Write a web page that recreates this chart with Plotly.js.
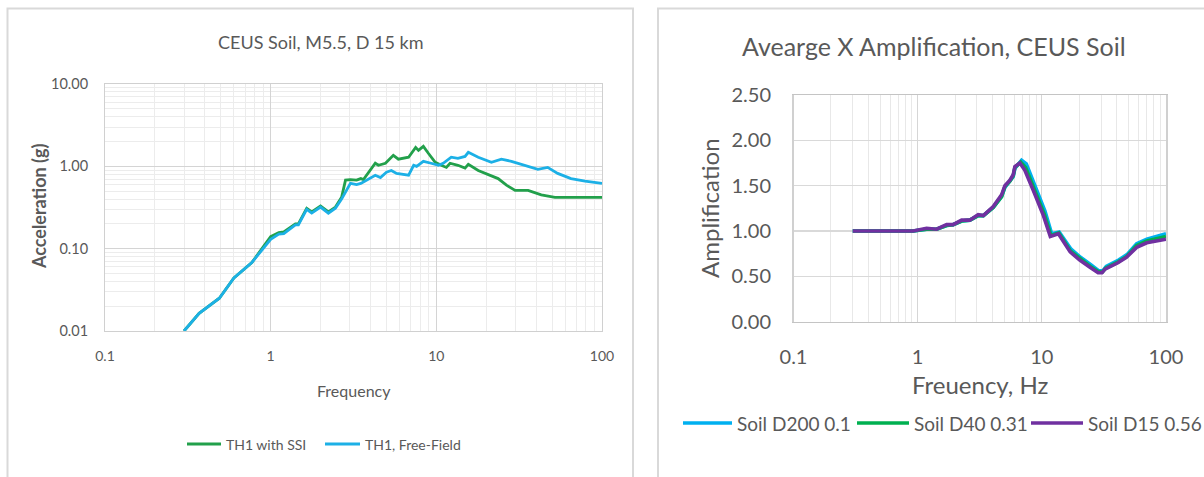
<!DOCTYPE html>
<html>
<head>
<meta charset="utf-8">
<script src="https://cdn.plot.ly/plotly-3.0.1.min.js"></script>
<style>
  html, body { margin: 0; padding: 0; background: #ffffff; }
  #chart { width: 1204px; height: 477px; }
</style>
</head>
<body>
<div id="chart"></div>
<script>
// ---- Response spectra: CEUS Soil, M5.5, D 15 km ----
const ssiFreq = [0.3, 0.37, 0.49, 0.6, 0.77, 1.0, 1.12, 1.2, 1.41, 1.47, 1.65, 1.77, 2.0, 2.23, 2.46, 2.68, 2.83, 3.03, 3.3, 3.5, 3.63, 4.28, 4.47, 4.93, 5.5, 5.9, 6.8, 7.5, 7.8, 8.35, 8.95, 9.85, 10.7, 11.5, 12.1, 13.5, 14.9, 15.6, 17.9, 20.5, 23.6, 26.5, 29.9, 35.8, 39.5, 43, 52, 100];
const ssiAcc  = [0.01, 0.0164, 0.025, 0.044, 0.068, 0.14, 0.157, 0.16, 0.20, 0.20, 0.31, 0.28, 0.33, 0.28, 0.32, 0.42, 0.68, 0.69, 0.68, 0.71, 0.69, 1.09, 1.03, 1.09, 1.36, 1.22, 1.29, 1.70, 1.56, 1.75, 1.44, 1.12, 1.03, 0.97, 1.09, 1.03, 0.95, 1.06, 0.89, 0.80, 0.71, 0.59, 0.51, 0.51, 0.48, 0.45, 0.42, 0.42];

const ffFreq = [0.3, 0.37, 0.49, 0.6, 0.77, 1.0, 1.12, 1.2, 1.41, 1.47, 1.65, 1.77, 2.0, 2.23, 2.46, 2.68, 3.03, 3.3, 3.5, 4.28, 4.6, 5.0, 5.35, 5.75, 6.8, 7.3, 7.6, 8.35, 9.3, 10.3, 11, 12.3, 13.5, 14.9, 15.6, 17.9, 21.5, 24.7, 28.4, 34.4, 41, 47, 54, 65, 79, 100];
const ffAcc  = [0.01, 0.0164, 0.025, 0.044, 0.068, 0.13, 0.15, 0.152, 0.195, 0.195, 0.30, 0.27, 0.32, 0.27, 0.31, 0.40, 0.62, 0.60, 0.62, 0.78, 0.73, 0.85, 0.89, 0.82, 0.78, 1.03, 1.0, 1.15, 1.09, 1.03, 1.09, 1.29, 1.25, 1.32, 1.48, 1.29, 1.12, 1.22, 1.15, 1.03, 0.92, 0.97, 0.82, 0.71, 0.66, 0.62];

const specXTicks = [0.1, 1, 10, 100];
const specXText  = ['0.1', '1', '10', '100'];
const specYTicks = [0.01, 0.1, 1, 10];
const specYText  = ['0.01', '0.10', '1.00', '10.00'];

// ---- Average X amplification, CEUS Soil ----
const d200Freq = [0.3, 0.92, 1.18, 1.42, 1.71, 1.93, 2.26, 2.63, 3.07, 3.38, 4.06, 4.74, 5.04, 5.53, 5.88, 6.07, 6.87, 7.5, 8.8, 10.6, 12.0, 13.8, 17.2, 20.5, 24.8, 28.8, 31, 33, 41.5, 48.5, 58, 70, 100];
const d200Amp  = [1.0, 1.0, 1.02, 1.02, 1.06, 1.07, 1.11, 1.12, 1.17, 1.17, 1.26, 1.38, 1.48, 1.55, 1.60, 1.69, 1.78, 1.74, 1.50, 1.22, 0.97, 0.99, 0.80, 0.71, 0.63, 0.56, 0.56, 0.61, 0.68, 0.74, 0.86, 0.91, 0.97];

const d40Freq = [0.3, 0.92, 1.18, 1.42, 1.71, 1.93, 2.26, 2.63, 3.07, 3.38, 4.06, 4.74, 5.04, 5.53, 5.88, 6.07, 6.75, 7.4, 8.65, 10.45, 11.85, 13.7, 17.0, 20.4, 24.6, 28.6, 30.8, 32.6, 41.2, 48.2, 58, 70, 100];
const d40Amp  = [1.0, 1.0, 1.02, 1.02, 1.06, 1.07, 1.11, 1.12, 1.17, 1.17, 1.26, 1.38, 1.49, 1.55, 1.61, 1.70, 1.76, 1.70, 1.47, 1.19, 0.95, 0.98, 0.78, 0.69, 0.61, 0.55, 0.55, 0.59, 0.66, 0.72, 0.84, 0.89, 0.94];

const d15Freq = [0.3, 0.92, 1.18, 1.42, 1.71, 1.93, 2.26, 2.63, 3.07, 3.38, 4.06, 4.74, 5.04, 5.53, 5.88, 6.07, 6.66, 7.3, 8.53, 10.3, 11.7, 13.6, 16.9, 20.2, 24.4, 28.4, 30.5, 32.3, 41, 48, 58, 70, 100];
const d15Amp  = [1.0, 1.0, 1.03, 1.02, 1.07, 1.07, 1.12, 1.12, 1.18, 1.17, 1.27, 1.40, 1.50, 1.56, 1.62, 1.71, 1.75, 1.67, 1.45, 1.17, 0.94, 0.97, 0.77, 0.68, 0.60, 0.54, 0.54, 0.58, 0.65, 0.71, 0.82, 0.87, 0.91];

const ampXTicks = [0.1, 1, 10, 100];
const ampXText  = ['0.1', '1', '10', '100'];

const W = 1204, H = 477;
const px = v => v / W;
const py = v => 1 - v / H;
const txt = '#595959';
const FONT = 'Lato, "Open Sans", sans-serif';

const traces = [
  { x: ssiFreq, y: ssiAcc, name: 'TH1 with SSI', mode: 'lines', xaxis: 'x', yaxis: 'y',
    line: { color: '#22a04b', width: 2.8 } },
  { x: ffFreq, y: ffAcc, name: 'TH1, Free-Field', mode: 'lines', xaxis: 'x', yaxis: 'y',
    line: { color: '#1cb0e6', width: 2.8 } },
  { x: d200Freq, y: d200Amp, name: 'Soil D200 0.1', mode: 'lines', xaxis: 'x2', yaxis: 'y2',
    line: { color: '#00b0f0', width: 3.6 } },
  { x: d40Freq, y: d40Amp, name: 'Soil D40 0.31', mode: 'lines', xaxis: 'x2', yaxis: 'y2',
    line: { color: '#00b050', width: 3.6 } },
  { x: d15Freq, y: d15Amp, name: 'Soil D15 0.56', mode: 'lines', xaxis: 'x2', yaxis: 'y2',
    line: { color: '#7030a0', width: 3.6 } }
];

// Legend rows drawn as line samples + labels taken from the traces
// [trace index, sample x0, sample x1, row y, font size]
const legendItems = [
  [0, 187, 221, 444, 14],
  [1, 325, 360, 444, 14],
  [2, 683, 732, 423, 19],
  [3, 857, 909, 423, 19],
  [4, 1031, 1083, 423, 19]
];
const legendShapes = [];
const legendLabels = [];
legendItems.forEach(([i, x0, x1, y, fs]) => {
  const tr = traces[i];
  legendShapes.push({ type: 'line', xref: 'paper', yref: 'paper', x0: px(x0), x1: px(x1), y0: py(y), y1: py(y),
    line: { color: tr.line.color, width: tr.line.width } });
  legendLabels.push({ text: tr.name, xref: 'paper', yref: 'paper', x: px(x1 + 3), y: py(y),
    xanchor: 'left', yanchor: 'middle', showarrow: false, font: { size: fs, color: txt } });
});

const logMinor = col => ({ dtick: 'D1', showgrid: true, gridcolor: col, gridwidth: 1, ticks: '' });

const layout = {
  width: W, height: H,
  margin: { l: 0, r: 0, t: 0, b: 0 },
  paper_bgcolor: '#ffffff', plot_bgcolor: '#ffffff',
  font: { family: FONT, color: txt },
  showlegend: false,
  xaxis: {
    type: 'log', range: [-1, 2], domain: [px(105), px(602)], anchor: 'y',
    tickvals: specXTicks, ticktext: specXText, ticks: '', ticklabelstandoff: 12,
    tickfont: { size: 14, color: txt },
    showgrid: true, gridcolor: '#d4d4d4', gridwidth: 1,
    minor: logMinor('#ececec'),
    showline: true, linecolor: '#d0d0d0', linewidth: 1, mirror: true, zeroline: false, fixedrange: true
  },
  yaxis: {
    type: 'log', range: [-2, 1], domain: [py(331), py(84)], anchor: 'x',
    tickvals: specYTicks, ticktext: specYText, ticks: '', ticklabelstandoff: 13,
    tickfont: { size: 14.5, color: txt },
    showgrid: true, gridcolor: '#d4d4d4', gridwidth: 1,
    minor: logMinor('#ececec'),
    showline: true, linecolor: '#d0d0d0', linewidth: 1, mirror: true, zeroline: false, fixedrange: true
  },
  xaxis2: {
    type: 'log', range: [-1, 2], domain: [px(793.5), px(1166)], anchor: 'y2',
    tickvals: ampXTicks, ticktext: ampXText, ticks: '', ticklabelstandoff: 17,
    tickfont: { size: 20, color: txt },
    showgrid: true, gridcolor: '#d6d6d6', gridwidth: 1.3,
    minor: logMinor('#e8e8e8'),
    showline: true, linecolor: '#c4c4c4', linewidth: 1.5, mirror: true, zeroline: false, fixedrange: true
  },
  yaxis2: {
    range: [0, 2.5], dtick: 0.5, tickformat: '.2f', domain: [py(321.7), py(95)], anchor: 'x2',
    ticks: '', ticklabelstandoff: 17,
    tickfont: { size: 20, color: txt },
    showgrid: true, gridcolor: '#d9d9d9', gridwidth: 1.5,
    showline: true, linecolor: '#d0d0d0', linewidth: 1.5, mirror: true, zeroline: false, fixedrange: true
  },
  shapes: [
    // chart frames
    { type: 'rect', xref: 'paper', yref: 'paper', x0: px(7.5), x1: px(633), y0: -0.05, y1: py(8.5),
      line: { color: '#d9d9d9', width: 2 }, fillcolor: 'rgba(0,0,0,0)', layer: 'below' },
    { type: 'rect', xref: 'paper', yref: 'paper', x0: px(658), x1: 1.05, y0: -0.05, y1: py(8.5),
      line: { color: '#d9d9d9', width: 2 }, fillcolor: 'rgba(0,0,0,0)', layer: 'below' }
  ].concat(legendShapes),
  annotations: [
    { text: 'CEUS Soil, M5.5, D 15 km', xref: 'paper', yref: 'paper', x: px(320), y: py(42),
      xanchor: 'center', yanchor: 'middle', showarrow: false, font: { size: 18, color: txt } },
    { text: '<b>Acceleration (g)</b>', xref: 'paper', yref: 'paper', x: px(39), y: py(207),
      xanchor: 'center', yanchor: 'middle', textangle: -90, showarrow: false, font: { size: 18, color: txt } },
    { text: 'Frequency', xref: 'paper', yref: 'paper', x: px(354), y: py(390),
      xanchor: 'center', yanchor: 'middle', showarrow: false, font: { size: 16, color: txt } },
    { text: 'Avearge X Amplification, CEUS Soil', xref: 'paper', yref: 'paper', x: px(934), y: py(46),
      xanchor: 'center', yanchor: 'middle', showarrow: false, font: { size: 25, color: txt } },
    { text: 'Amplification', xref: 'paper', yref: 'paper', x: px(709), y: py(208),
      xanchor: 'center', yanchor: 'middle', textangle: -90, showarrow: false, font: { size: 24, color: txt } },
    { text: 'Freuency, Hz', xref: 'paper', yref: 'paper', x: px(980), y: py(384),
      xanchor: 'center', yanchor: 'middle', showarrow: false, font: { size: 24, color: txt } }
  ].concat(legendLabels)
};

Plotly.newPlot('chart', traces, layout, { displayModeBar: false, staticPlot: true });
</script>
</body>
</html>
